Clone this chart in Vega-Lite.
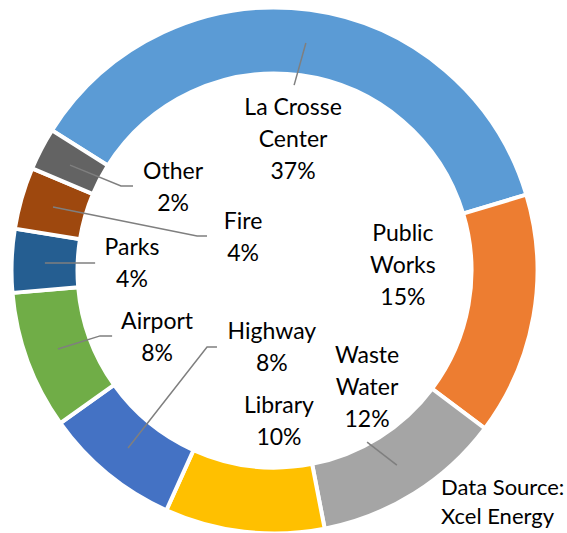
{
  "$schema": "https://vega.github.io/schema/vega-lite/v6.json",
  "width": 523,
  "height": 523,
  "autosize": "none",
  "padding": {"left": 13, "top": 9, "right": 31, "bottom": 1},
  "background": "white",
  "config": {"view": {"stroke": null}},
  "datasets": {
    "slices": [
      {"name": "La Crosse Center", "rank": 1, "value": 36.4, "label": ["La Crosse", "Center", "37%"], "lx": 0.071, "ly": 0.621},
      {"name": "Public Works", "rank": 2, "value": 14.9, "label": ["Public", "Works", "15%"], "lx": 0.491, "ly": 0.139},
      {"name": "Waste Water", "rank": 3, "value": 11.7, "label": ["Waste", "Water", "12%"], "lx": 0.354, "ly": -0.327},
      {"name": "Library", "rank": 4, "value": 9.8, "label": ["Library", "10%"], "lx": 0.017, "ly": -0.518},
      {"name": "Highway", "rank": 5, "value": 8.4, "label": ["Highway", "8%"], "lx": -0.01, "ly": -0.235},
      {"name": "Airport", "rank": 6, "value": 8.5, "label": ["Airport", "8%"], "lx": -0.449, "ly": -0.197},
      {"name": "Parks", "rank": 7, "value": 3.9, "label": ["Parks", "4%"], "lx": -0.545, "ly": 0.086},
      {"name": "Fire", "rank": 8, "value": 3.8, "label": ["Fire", "4%"], "lx": -0.12, "ly": 0.185},
      {"name": "Other", "rank": 9, "value": 2.6, "label": ["Other", "2%"], "lx": -0.388, "ly": 0.377}
    ],
    "leaders": [
      {"name": "La Crosse Center", "pt": 1, "u": 0.12, "v": 0.87},
      {"name": "La Crosse Center", "pt": 2, "u": 0.075, "v": 0.709},
      {"name": "Other", "pt": 1, "u": -0.782, "v": 0.403},
      {"name": "Other", "pt": 2, "u": -0.587, "v": 0.323},
      {"name": "Other", "pt": 3, "u": -0.541, "v": 0.323},
      {"name": "Fire", "pt": 1, "u": -0.847, "v": 0.243},
      {"name": "Fire", "pt": 2, "u": -0.296, "v": 0.132},
      {"name": "Fire", "pt": 3, "u": -0.258, "v": 0.132},
      {"name": "Parks", "pt": 1, "u": -0.878, "v": 0.029},
      {"name": "Parks", "pt": 2, "u": -0.686, "v": 0.029},
      {"name": "Airport", "pt": 1, "u": -0.828, "v": -0.3},
      {"name": "Airport", "pt": 2, "u": -0.667, "v": -0.25},
      {"name": "Airport", "pt": 3, "u": -0.621, "v": -0.25},
      {"name": "Highway", "pt": 1, "u": -0.56, "v": -0.679},
      {"name": "Highway", "pt": 2, "u": -0.258, "v": -0.293},
      {"name": "Highway", "pt": 3, "u": -0.22, "v": -0.293},
      {"name": "Waste Water", "pt": 1, "u": 0.468, "v": -0.744},
      {"name": "Waste Water", "pt": 2, "u": 0.354, "v": -0.656}
    ]
  },
  "layer": [
    {
      "data": {"name": "slices"},
      "mark": {"type": "arc", "innerRadius": 197, "outerRadius": 263, "stroke": "white", "strokeWidth": 4},
      "encoding": {
        "theta": {"field": "value", "type": "quantitative", "stack": true, "scale": {"range": [-1.0088, 5.2744]}},
        "color": {
          "field": "name", "type": "nominal", "legend": null,
          "scale": {
            "domain": ["La Crosse Center", "Public Works", "Waste Water", "Library", "Highway", "Airport", "Parks", "Fire", "Other"],
            "range": ["#5B9BD5", "#ED7D31", "#A5A5A5", "#FFC000", "#4472C4", "#70AD47", "#255E91", "#9E480E", "#636363"]
          }
        },
        "order": {"field": "rank", "type": "quantitative"}
      }
    },
    {
      "data": {"name": "leaders"},
      "mark": {"type": "line", "color": "#7F7F7F", "strokeWidth": 1.5},
      "encoding": {
        "x": {"field": "u", "type": "quantitative", "scale": {"domain": [-1, 1], "nice": false, "zero": false}, "axis": null},
        "y": {"field": "v", "type": "quantitative", "scale": {"domain": [-1, 1], "nice": false, "zero": false}, "axis": null},
        "detail": {"field": "name", "type": "nominal"},
        "order": {"field": "pt", "type": "quantitative"}
      }
    },
    {
      "data": {"name": "slices"},
      "mark": {"type": "text", "font": "Lato", "fontSize": 23, "lineHeight": 32, "align": "center", "baseline": "middle", "color": "#000000"},
      "encoding": {
        "x": {"field": "lx", "type": "quantitative", "scale": {"domain": [-1, 1], "nice": false, "zero": false}, "axis": null},
        "y": {"field": "ly", "type": "quantitative", "scale": {"domain": [-1, 1], "nice": false, "zero": false}, "axis": null},
        "text": {"field": "label", "type": "nominal"}
      }
    },
    {
      "data": {"values": [{"note": ["Data Source:", "Xcel Energy"]}]},
      "mark": {"type": "text", "font": "Lato", "fontSize": 22, "lineHeight": 29, "align": "left", "baseline": "middle", "color": "#000000", "clip": false},
      "encoding": {
        "x": {"datum": 0.637, "type": "quantitative"},
        "y": {"datum": -0.832, "type": "quantitative"},
        "text": {"field": "note", "type": "nominal"}
      }
    }
  ]
}
